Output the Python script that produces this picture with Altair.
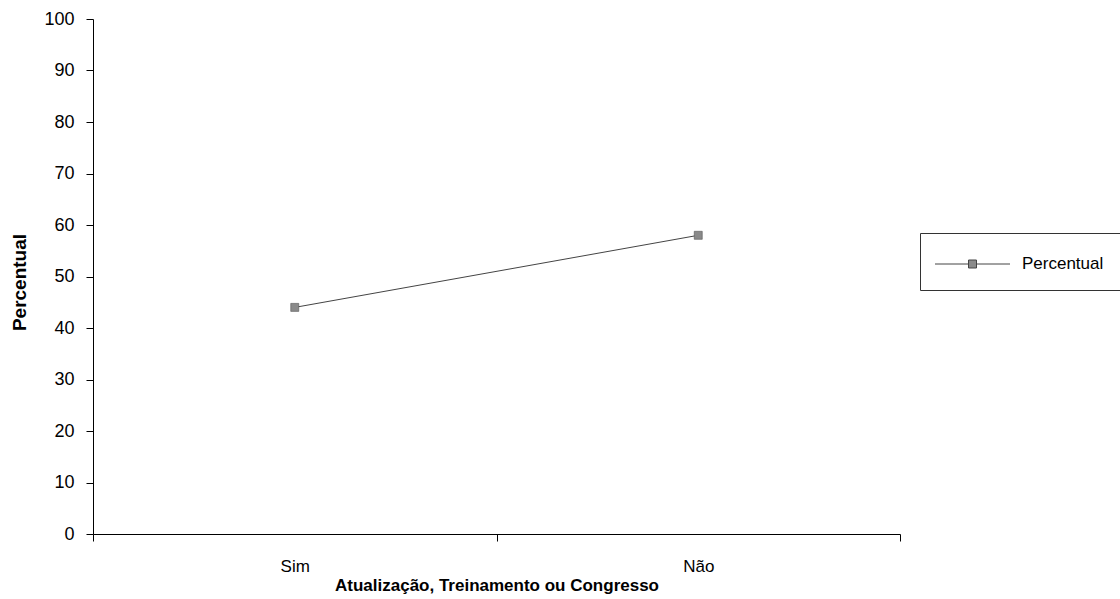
import altair as alt
import pandas as pd

categories = ["Sim", "Não"]
percentual = [44, 58]
series = ["Percentual", "Percentual"]
y_ticks = [0, 10, 20, 30, 40, 50, 60, 70, 80, 90, 100]

df = pd.DataFrame({"cat": categories, "valor": percentual, "serie": series})

FONT = "Liberation Sans"

x_enc = alt.X(
    "cat:N",
    sort=categories,
    title="Atualização, Treinamento ou Congresso",
    scale=alt.Scale(type="band", paddingInner=0, paddingOuter=0),
    axis=alt.Axis(
        labelAngle=0,
        tickBand="extent",
        tickSize=7,
        labelPadding=17,
        labelFontSize=17,
        labelFont=FONT,
        labelColor="black",
        domainColor="black",
        tickColor="black",
        titleFont=FONT,
        titleFontSize=17,
        titleFontWeight="bold",
        titleColor="black",
        titleBaseline="alphabetic",
        titleY=56,
        grid=False,
    ),
)
y_enc = alt.Y(
    "valor:Q",
    title="Percentual",
    scale=alt.Scale(domain=[0, 100], nice=False, zero=True),
    axis=alt.Axis(
        values=y_ticks,
        tickSize=7,
        labelPadding=12,
        labelFontSize=18,
        labelFont=FONT,
        labelColor="black",
        domainColor="black",
        tickColor="black",
        titleFont=FONT,
        titleFontSize=19,
        titleFontWeight="bold",
        titleColor="black",
        titleX=-64,
        titleY=263,
        grid=False,
    ),
)

line = alt.Chart(df).mark_line(color="#444444", strokeWidth=1).encode(x=x_enc, y=y_enc)

points = alt.Chart(df).mark_point(
    shape="square", filled=True, size=64, opacity=1, stroke="#555555", strokeWidth=0.6
).encode(
    x=x_enc,
    y=y_enc,
    color=alt.Color(
        "serie:N",
        scale=alt.Scale(range=["#8a8a8a"]),
        legend=alt.Legend(
            title=None,
            orient="none",
            legendX=827,
            legendY=214,
            symbolType="M-3,0H-0.32M0.32,0H3M-0.32,-0.32H0.32V0.32H-0.32Z",
            symbolSize=625,
            symbolOffset=21.5,
            labelOffset=36.5,
            symbolFillColor="#8a8a8a",
            symbolStrokeColor="#444444",
            symbolStrokeWidth=1,
            strokeColor="#333333",
            padding=18,
            labelFontSize=17,
            labelFont=FONT,
            labelColor="black",
            cornerRadius=0,
        ),
    ),
)

chart = (
    alt.layer(line, points)
    .properties(
        width=807,
        height=515,
        autosize=alt.AutoSizeParams(type="none"),
        padding={"left": 93, "top": 19, "right": 220, "bottom": 65},
        background="white",
    )
    .configure_view(stroke=None)
)

chart.save("out.html", embed_options={"renderer": "svg", "actions": False})
